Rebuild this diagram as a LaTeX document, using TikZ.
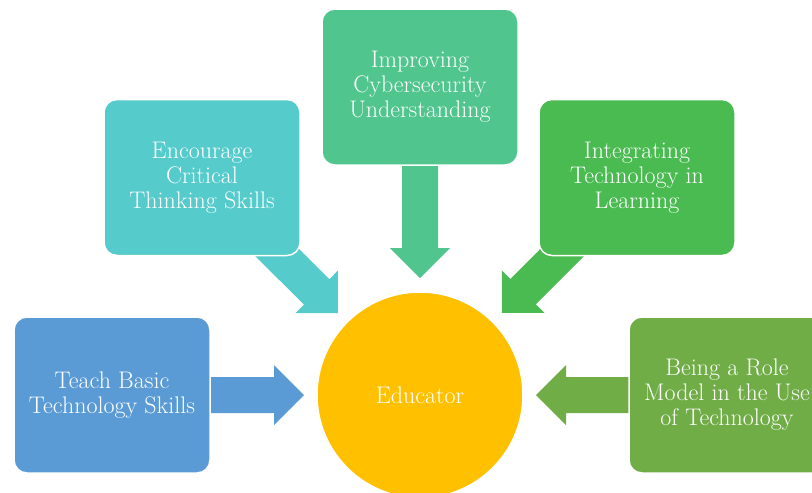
\documentclass[tikz,border=0pt]{standalone}
\usepackage{tikz}
\usetikzlibrary{calc,backgrounds}
\definecolor{blueA}{HTML}{5B9BD5}
\definecolor{tealA}{HTML}{55CBCC}
\definecolor{mintA}{HTML}{50C58D}
\definecolor{greenA}{HTML}{4ABB50}
\definecolor{oliveA}{HTML}{70AD47}
\definecolor{goldA}{HTML}{FFC000}
\tikzset{
box/.style={rectangle, rounded corners=13pt, draw=white, line width=1.5pt,
  minimum width=196pt, minimum height=156pt, inner sep=2pt,
  text=white, align=center, font=\fontsize{24}{25}\selectfont},
hub/.style={circle, draw=white, line width=1.5pt, fill=goldA, minimum size=206pt,
  text=white, font=\fontsize{24}{25}\selectfont}
}
% block arrow: #1 start, #2 tip, #3 colour
\newcommand{\fatarrow}[3]{
  \coordinate (hb) at ($(#2)!30pt!(#1)$);
  \fill[#3] ($(#1)!18pt!90:(#2)$) -- ($(hb)!18pt!90:(#2)$) -- ($(hb)!30pt!90:(#2)$) -- (#2)
    -- ($(hb)!30pt!-90:(#2)$) -- ($(hb)!18pt!-90:(#2)$) -- ($(#1)!18pt!-90:(#2)$) -- cycle;
}
\begin{document}
\begin{tikzpicture}[x=1pt,y=-1pt]
\useasboundingbox (0,0) rectangle (812,493);
\clip (0,0) rectangle (812,493);

\node[hub] (edu) at (420,395) {Educator};

\node[box, fill=blueA] (teach) at (112,395) {Teach Basic\\Technology Skills};
\node[box, fill=tealA] (crit) at (202,177.5) {Encourage\\Critical\\Thinking Skills};
\node[box, fill=mintA] (cyber) at (420,87) {Improving\\Cybersecurity\\Understanding};
\node[box, fill=greenA] (integ) at (637,177.5) {Integrating\\Technology in\\Learning};
\node[box, fill=oliveA] (role) at (727,395) {Being a Role\\Model in the Use\\of Technology};

% tips sit just outside the circle
\coordinate (tteach) at ($(edu.center)!116pt!(teach.center)$);
\coordinate (tcrit) at ($(edu.center)!116pt!(crit.center)$);
\coordinate (tcyber) at ($(edu.center)!117pt!(cyber.center)$);
\coordinate (tinteg) at ($(edu.center)!116pt!(integ.center)$);
\coordinate (trole) at ($(edu.center)!116pt!(role.center)$);

\begin{scope}[on background layer]
\fatarrow{teach.center}{tteach}{blueA}
\fatarrow{crit.center}{tcrit}{tealA}
\fatarrow{cyber.center}{tcyber}{mintA}
\fatarrow{integ.center}{tinteg}{greenA}
\fatarrow{role.center}{trole}{oliveA}
\end{scope}
\end{tikzpicture}
\end{document}
